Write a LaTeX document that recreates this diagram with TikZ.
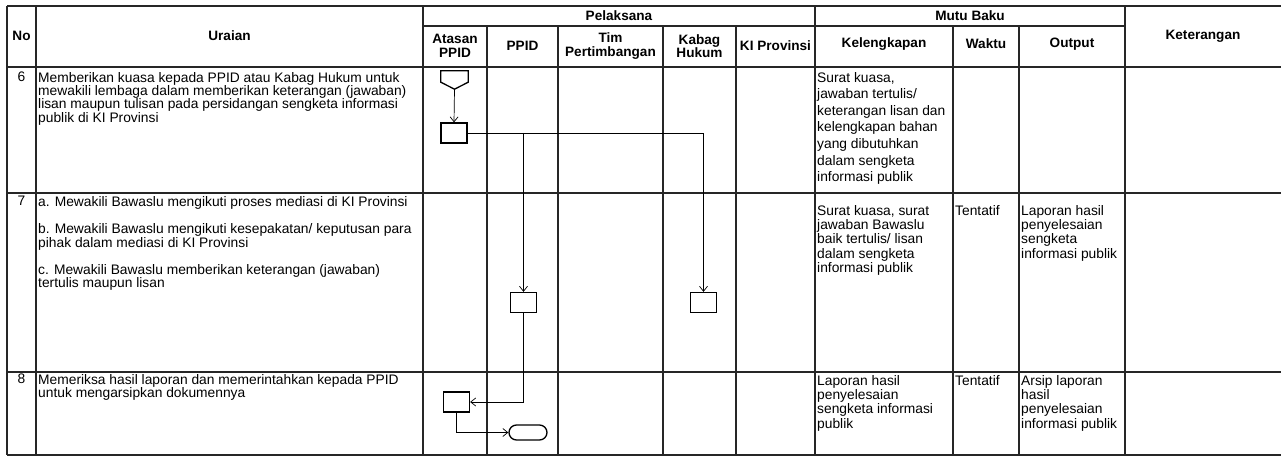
\documentclass[tikz,border=0pt]{standalone}
\usepackage{fontspec}
\setmainfont{Liberation Sans}
\usepackage{tikz}
\usetikzlibrary{
  arrows.meta,
  positioning
}

\begin{document}
\begin{tikzpicture}[
  x=1pt, y=-1pt,
  grid/.style={line width=1.3pt, black!85},
  head/.style={align=center, inner sep=0pt,
               font=\fontsize{13.6}{13.4}\selectfont\bfseries},
  cell/.style={anchor=north west, align=left, inner sep=0pt,
               font=\fontsize{13.8}{13.4}\selectfont},
  cellwide/.style={cell, font=\fontsize{13.8}{14.3}\selectfont},
  proc/.style={draw, line width=1.3pt, minimum width=26pt,
               minimum height=20pt, inner sep=0pt},
  offpage/.style={inner sep=0pt, minimum width=27pt, minimum height=18pt},
  term/.style={draw, line width=1.3pt, rounded corners=7.5pt,
               minimum width=38pt, minimum height=15pt, inner sep=0pt},
  arr/.style={-{Straight Barb[length=5pt, width=8pt]}, line width=0.7pt}
]
\useasboundingbox (0,0) rectangle (1281,457);

% ── Table lines ──
\draw[grid] (7,6) -- (1281,6);
\draw[grid] (423,26) -- (1125,26);
\draw[grid] (7,67) -- (1281,67);
\draw[grid] (7,193) -- (1281,193);
\draw[grid] (7,372) -- (1281,372);
\draw[grid] (7,455) -- (1281,455);
\draw[grid] (7,6) -- (7,455);
\draw[grid] (36,6) -- (36,455);
\draw[grid] (423,6) -- (423,455);
\draw[grid] (487,26) -- (487,455);
\draw[grid] (558,26) -- (558,455);
\draw[grid] (663,26) -- (663,455);
\draw[grid] (736,26) -- (736,455);
\draw[grid] (815,6) -- (815,455);
\draw[grid] (953,26) -- (953,455);
\draw[grid] (1019,26) -- (1019,455);
\draw[grid] (1125,6) -- (1125,455);

% ── Header ──
\node[head] (hno) at (21.5,36) {No};
\node[head] (huraian) at (229.5,36) {Uraian};
\node[head] (hpelaksana) at (619,16) {Pelaksana};
\node[head] (hatasan) at (455,46) {Atasan\\PPID};
\node[head] (hppid) at (522.5,46) {PPID};
\node[head] (htim) at (610.5,46) {Tim\\Pertimbangan};
\node[head] (hkabag) at (699.5,46) {Kabag\\Hukum};
\node[head] (hki) at (775.5,46) {KI Provinsi};
\node[head] (hmutu) at (970,16) {Mutu Baku};
\node[head] (hkelengkapan) at (884,44) {Kelengkapan};
\node[head] (hwaktu) at (986,44) {Waktu};
\node[head] (houtput) at (1072,44) {Output};
\node[head] (hketerangan) at (1203,36) {Keterangan};

% ── Row 6 ──
\node[cell, anchor=north] (no6) at (21.5,72) {6};
\node[cell] (uraian6) at (38,72)
  {Memberikan kuasa kepada PPID atau Kabag Hukum untuk\\
   mewakili lembaga dalam memberikan keterangan (jawaban)\\
   lisan maupun tulisan pada persidangan sengketa informasi\\
   publik di KI Provinsi};
\node[cell, font=\fontsize{13.8}{16.6}\selectfont] (leng6) at (817,72)
  {Surat kuasa,\\ jawaban tertulis/\\ keterangan lisan dan\\
   kelengkapan bahan\\ yang dibutuhkan\\ dalam sengketa\\
   informasi publik};

% ── Row 7 ──
\node[cell, anchor=north] (no7) at (21.5,196) {7};
\node[cell] (uraian7) at (38,196)
  {a. Mewakili Bawaslu mengikuti proses mediasi di KI Provinsi\\[14pt]
   b. Mewakili Bawaslu mengikuti kesepakatan/ keputusan para\\
   pihak dalam mediasi di KI Provinsi\\[14pt]
   c. Mewakili Bawaslu memberikan keterangan (jawaban)\\
   tertulis maupun lisan};
\node[cellwide] (leng7) at (817,205)
  {Surat kuasa, surat\\ jawaban Bawaslu\\ baik tertulis/ lisan\\
   dalam sengketa\\ informasi publik};
\node[cellwide] (waktu7) at (955,205) {Tentatif};
\node[cellwide] (output7) at (1021,205)
  {Laporan hasil\\ penyelesaian\\ sengketa\\ informasi publik};

% ── Row 8 ──
\node[cell, anchor=north] (no8) at (21.5,374) {8};
\node[cell] (uraian8) at (38,374)
  {Memeriksa hasil laporan dan memerintahkan kepada PPID\\
   untuk mengarsipkan dokumennya};
\node[cellwide] (leng8) at (817,375)
  {Laporan hasil\\ penyelesaian\\ sengketa informasi\\ publik};
\node[cellwide] (waktu8) at (955,375) {Tentatif};
\node[cellwide] (output8) at (1021,375)
  {Arsip laporan\\ hasil\\ penyelesaian\\ informasi publik};

% ── Flow ──
\node[offpage] (start6) at (454.5,80) {};
\draw[line width=1.3pt] (start6.north west) -- (start6.north east)
  -- ([yshift=7pt]start6.south east) -- (start6.south)
  -- ([yshift=7pt]start6.south west) -- cycle;
\node[proc] (atasan6) at (454,133) {};
\node[proc] (ppid7) at (523.5,302.5) {};
\node[proc] (kabag7) at (703.5,302.5) {};
\node[proc] (atasan8) at (456.5,402) {};
\node[term] (end8) at (528,432.5) {};

\draw[arr] (start6.south) -- (atasan6.north);
\draw[arr] (atasan6.east) -| (kabag7.north);
\coordinate (split6) at (ppid7.north |- atasan6.east);
\draw[arr] (split6) -- (ppid7.north);
\draw[arr] (ppid7.south) |- (atasan8.east);
\draw[arr] (atasan8.south) |- (end8.west);

\end{tikzpicture}
\end{document}
